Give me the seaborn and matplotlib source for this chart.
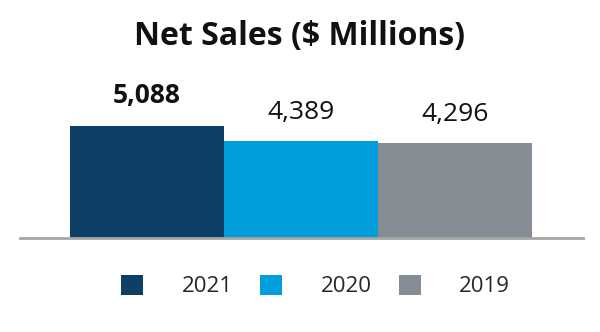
import matplotlib
matplotlib.use("Agg")
import matplotlib.pyplot as plt
from matplotlib.patches import Patch
import seaborn as sns
import pandas as pd

years = ["2021", "2020", "2019"]
net_sales = [5088, 4389, 4296]
value_labels = ["5,088", "4,389", "4,296"]
colors = ["#0e3f66", "#009fdb", "#868c94"]

sns.set_style("white")
plt.rcParams["font.family"] = ["Open Sans", "DejaVu Sans"]

df = pd.DataFrame({"year": years, "sales": net_sales})

fig = plt.figure(figsize=(6, 3.32), dpi=100)
ax = fig.add_axes([20 / 600, 1 - 238 / 332, 563 / 600, 178 / 332])

sns.barplot(data=df, x="year", y="sales", hue="year", order=years,
            hue_order=years, palette=colors, width=1.0, legend=False,
            saturation=1, ax=ax, linewidth=0)

ax.set_xlim(-0.825, 2.83)
ax.set_ylim(0, 5088 * 178 / 112)
ax.set_xlabel("")
ax.set_ylabel("")
ax.set_xticks([])
ax.set_yticks([])
for side in ["top", "left", "right"]:
    ax.spines[side].set_visible(False)
ax.spines["bottom"].set_color("#a6a6a6")
ax.spines["bottom"].set_linewidth(2)

for i, (v, lab) in enumerate(zip(net_sales, value_labels)):
    ax.annotate(lab, (i, v), xytext=(0, 12), textcoords="offset points",
                ha="center", va="bottom", fontsize=19,
                fontweight="bold" if i == 0 else "normal", color="#111111")

fig.text(0.5, 1 - 36 / 332, "Net Sales ($ Millions)", ha="center",
         va="center", fontsize=23, fontweight="bold", color="#111111")

handles = [Patch(facecolor=c, edgecolor="none") for c in colors]
fig.legend(handles, years, loc="center", bbox_to_anchor=(0.526, 1 - 286 / 332),
           ncol=3, frameon=False, fontsize=16, handlelength=0.99,
           handleheight=0.99, handletextpad=1.74, columnspacing=1.22)

fig.savefig("out.png", dpi=100)
